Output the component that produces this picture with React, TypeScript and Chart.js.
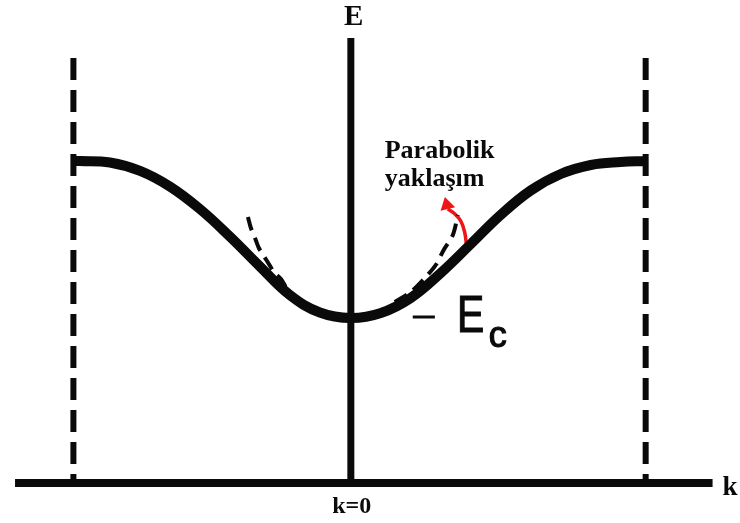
import React, { useEffect, useRef } from "react";
import { Chart, registerables } from "chart.js";

Chart.register(...registerables);

// Energy band E(k) across the first Brillouin zone
const bandK = [-0.941, -0.919, -0.817, -0.715, -0.614, -0.512, -0.41, -0.308, -0.207, -0.105, 0,
  0.102, 0.203, 0.305, 0.407, 0.508, 0.61, 0.712, 0.814, 0.915, 1.0];
const bandE = [3.22, 3.22, 3.205, 3.121, 2.965, 2.74, 2.464, 2.164, 1.88, 1.705, 1.65,
  1.7, 1.85, 2.1, 2.39, 2.68, 2.925, 3.09, 3.18, 3.21, 3.22];

// Parabolic approximation near the band minimum
const paraLeftK = [-0.349, -0.339, -0.325, -0.312, -0.295, -0.278, -0.261, -0.237, -0.214, -0.18];
const paraLeftE = [2.66, 2.55, 2.45, 2.35, 2.27, 2.19, 2.11, 2.04, 1.93, 1.82];
const paraRightK = [0.149, 0.207, 0.254, 0.288, 0.315, 0.346, 0.363];
const paraRightE = [1.81, 1.92, 2.06, 2.18, 2.33, 2.48, 2.68];

// Red pointer toward the label
const arrowK = [0.393, 0.386, 0.373, 0.353, 0.329];
const arrowE = [2.36, 2.51, 2.62, 2.69, 2.74];
const arrowTip = { k: 0.319, e: 2.86 };

// Axes and zone boundaries
const kAxisRange = [-1.139, 1.227];
const eAxisTop = 4.45;
const zoneEdges = [-0.941, 1.0];
const zoneTop = 4.25;
const ecLevel = 1.66;
const ecMarkK = [0.21, 0.285];

const pts = (ks: number[], es: number[]) => ks.map((k, i) => ({ x: k, y: es[i] }));

const INK = "#0a0a0a";
const RED = "#ee1515";

const labelsPlugin = {
  id: "labels",
  afterDatasetsDraw(chart: any) {
    const { ctx } = chart;
    const xs = chart.scales.x;
    const ys = chart.scales.y;
    const X = (v: number) => xs.getPixelForValue(v);
    const Y = (v: number) => ys.getPixelForValue(v);

    // arrowhead
    const lk = arrowK[arrowK.length - 1];
    const le = arrowE[arrowE.length - 1];
    const bx = X(lk), by = Y(le);
    const tx = X(arrowTip.k), ty = Y(arrowTip.e);
    const ang = Math.atan2(ty - by, tx - bx);
    const len = Math.hypot(tx - bx, ty - by);
    const half = 7.5;
    ctx.save();
    ctx.fillStyle = RED;
    ctx.beginPath();
    ctx.moveTo(tx, ty);
    ctx.lineTo(tx - len * Math.cos(ang) - half * Math.sin(ang), ty - len * Math.sin(ang) + half * Math.cos(ang));
    ctx.lineTo(tx - len * Math.cos(ang) + half * Math.sin(ang), ty - len * Math.sin(ang) - half * Math.cos(ang));
    ctx.closePath();
    ctx.fill();
    ctx.restore();

    ctx.save();
    ctx.fillStyle = INK;
    ctx.strokeStyle = INK;
    ctx.textBaseline = "alphabetic";

    ctx.font = "bold 29px 'Liberation Serif'";
    ctx.textAlign = "center";
    ctx.fillText("E", X(0.01), Y(4.58));

    ctx.font = "bold 24px 'Liberation Serif'";
    ctx.fillText("k=0", X(0.003), Y(-0.3));

    ctx.font = "bold 27px 'Liberation Serif'";
    ctx.textAlign = "left";
    ctx.fillText("k", X(1.261), Y(-0.12));

    ctx.font = "bold 26px 'Liberation Serif'";
    ctx.fillText("Parabolik", X(0.115), Y(3.25));
    ctx.fillText("yaklaşım", X(0.115), Y(2.97));

    // E_c label, condensed sans with a slightly heavier stroke
    ctx.lineWidth = 1.2;
    ctx.font = "51px 'Liberation Sans'";
    ctx.save();
    ctx.translate(X(0.36), Y(1.51));
    ctx.scale(0.8, 1);
    ctx.fillText("E", 0, 0);
    ctx.strokeText("E", 0, 0);
    ctx.restore();
    ctx.font = "36px 'Liberation Sans'";
    ctx.fillText("c", X(0.468), Y(1.36));
    ctx.strokeText("c", X(0.468), Y(1.36));
    ctx.restore();
  },
};

export default function App() {
  const ref = useRef<HTMLCanvasElement>(null);

  useEffect(() => {
    document.body.style.margin = "0";
    const line = (data: any[], width: number, color: string, extra: any = {}) => ({
      data,
      showLine: true,
      borderColor: color,
      backgroundColor: color,
      borderWidth: width,
      pointRadius: 0,
      fill: false,
      ...extra,
    });

    const chart = new Chart(ref.current!, {
      type: "scatter",
      data: {
        datasets: [
          line([{ x: kAxisRange[0], y: 0 }, { x: kAxisRange[1], y: 0 }], 8, INK),
          line([{ x: 0, y: 0 }, { x: 0, y: eAxisTop }], 7, INK),
          ...zoneEdges.map((k) =>
            line([{ x: k, y: zoneTop }, { x: k, y: 0 }], 6, INK, { borderDash: [22, 10] })
          ),
          line(pts(bandK, bandE), 10, INK, { tension: 0.4, borderCapStyle: "butt" }),
          line(pts(paraLeftK, paraLeftE), 4, INK, { borderDash: [14, 8], tension: 0.3 }),
          line(pts(paraRightK, paraRightE), 4, INK, { borderDash: [14, 8], tension: 0.3 }),
          line(ecMarkK.map((k) => ({ x: k, y: ecLevel })), 3, INK),
          line(pts(arrowK, arrowE), 3.5, RED, { tension: 0.4 }),
        ],
      },
      options: {
        animation: false,
        responsive: false,
        devicePixelRatio: 1,
        layout: { padding: 0 },
        plugins: { legend: { display: false }, tooltip: { enabled: false } },
        scales: {
          x: { type: "linear", min: -1.19, max: 1.32, display: false },
          y: { type: "linear", min: -0.4, max: 4.83, display: false },
        },
      },
      plugins: [labelsPlugin],
    });
    return () => chart.destroy();
  }, []);

  return (
    <div style={{ position: "absolute", left: 0, top: 0, width: 740, height: 523, background: "#fff" }}>
      <canvas ref={ref} width={740} height={523} />
    </div>
  );
}
